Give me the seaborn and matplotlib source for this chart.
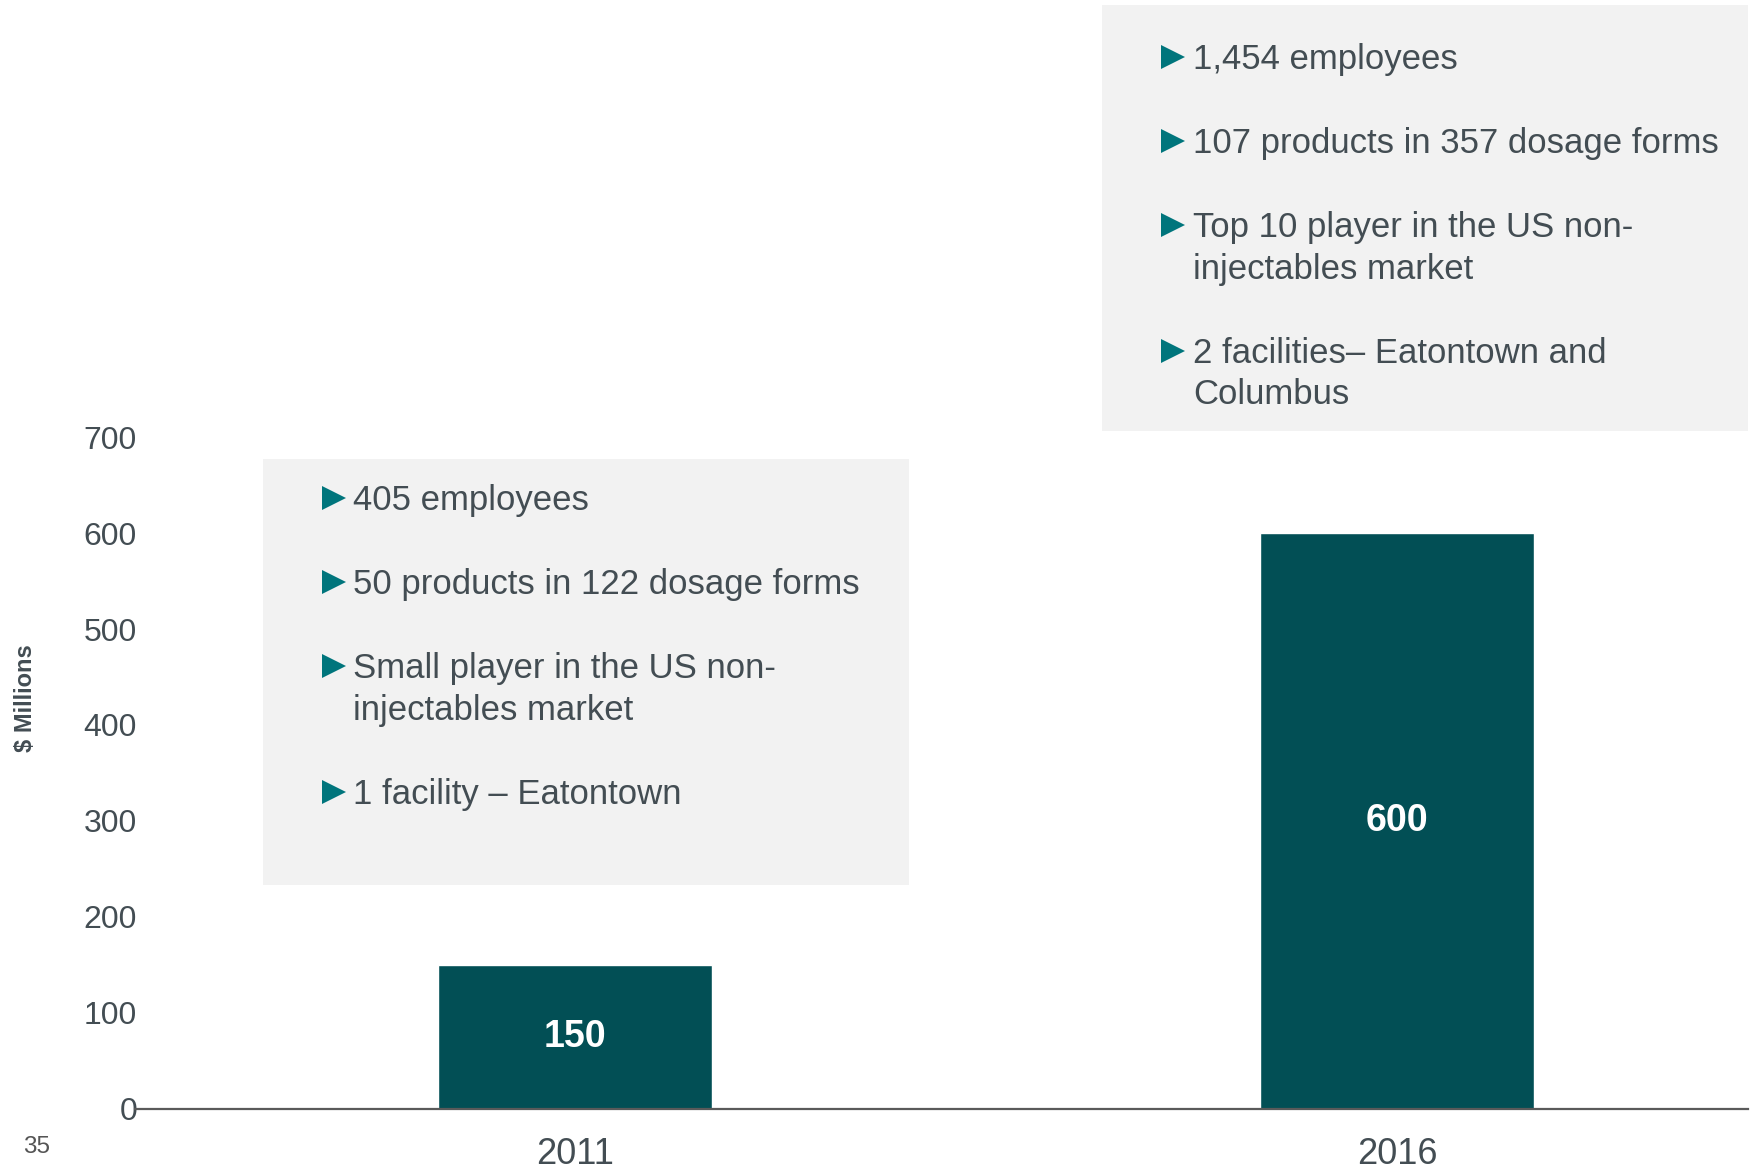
import matplotlib
matplotlib.use("Agg")
import matplotlib.pyplot as plt
import seaborn as sns
import pandas as pd
from matplotlib.patches import Rectangle
from matplotlib.lines import Line2D

# Revenue by year ($ millions)
years = ["2011", "2016"]
revenue = [150, 600]
y_ticks = [0, 100, 200, 300, 400, 500, 600, 700]

# Company profile notes for each year
profile_2011 = [
    "405 employees",
    "50 products in 122 dosage forms",
    "Small player in the US non-\ninjectables market",
    "1 facility \u2013 Eatontown",
]
profile_2016 = [
    "1,454 employees",
    "107 products in 357 dosage forms",
    "Top 10 player in the US non-\ninjectables market",
    "2 facilities\u2013 Eatontown and\nColumbus",
]

BAR = "#024f55"
ARROW = "#00757c"
TXT = "#434d53"
BOX = "#f2f2f2"
AXIS = "#5a5a5a"

W, H = 1760, 1169

sns.set_theme(style="white")
plt.rcParams["font.family"] = ["Liberation Sans", "DejaVu Sans"]

fig = plt.figure(figsize=(W / 100, H / 100), dpi=100)
fig.patch.set_facecolor("white")


def fx(px):
    return px / W


def fy(py):
    return 1 - py / H


ax = fig.add_axes([fx(135), fy(1109), fx(1748 - 135), (1109 - 437) / H])
ax.set_facecolor("none")

df = pd.DataFrame({"year": years, "revenue": revenue})
sns.barplot(data=df, x="year", y="revenue", color=BAR, saturation=1,
            width=0.333, ax=ax)

ax.set_xlim(-0.535, 1.427)
ax.set_ylim(0, 700)
ax.set_yticks(y_ticks)
ax.set_xlabel("")
ax.set_ylabel("")
ax.tick_params(axis="y", length=0, pad=-1.5, labelsize=23, labelcolor=TXT)
ax.tick_params(axis="x", length=0, pad=20, labelsize=26, labelcolor=TXT)

for side in ("left", "top", "right"):
    ax.spines[side].set_visible(False)
ax.spines["bottom"].set_color(AXIS)
ax.spines["bottom"].set_linewidth(1.6)

ax.bar_label(ax.containers[0], label_type="center", color="white",
             fontsize=27, fontweight="bold")

# Axis title and page number
fig.text(fx(25), fy(698), "$ Millions", rotation=90, ha="center", va="center",
         fontsize=17, fontweight="bold", color=TXT)
fig.text(fx(37), fy(1147), "35", ha="center", va="center",
         fontsize=17.5, color="#555555")

BULLET_PT = 25
EM_PX = BULLET_PT * 100 / 72
LINE_GAP = 41.5
ITEM_GAP = 84


def note_box(x0, y0, x1, y1, items, arrow_x, text_x, first_y):
    fig.patches.append(Rectangle((fx(x0), fy(y1)), fx(x1 - x0), (y1 - y0) / H,
                                 transform=fig.transFigure, facecolor=BOX,
                                 edgecolor="none", zorder=-1))
    y = first_y
    for item in items:
        lines = item.split("\n")
        fig.add_artist(Line2D([fx(arrow_x)], [fy(y)], transform=fig.transFigure,
                              marker=">", markersize=17.5, color=ARROW,
                              markeredgewidth=0, linestyle="none"))
        for k, line in enumerate(lines):
            base = y + k * LINE_GAP + 0.358 * EM_PX
            fig.text(fx(text_x), fy(base), line, ha="left", va="baseline",
                     fontsize=BULLET_PT, color=TXT)
        y += ITEM_GAP + LINE_GAP * (len(lines) - 1)


note_box(263, 459, 909, 885, profile_2011, 334, 353, 498)
note_box(1102, 5, 1748, 431, profile_2016, 1173, 1193, 57)

fig.savefig("out.png", dpi=100)
